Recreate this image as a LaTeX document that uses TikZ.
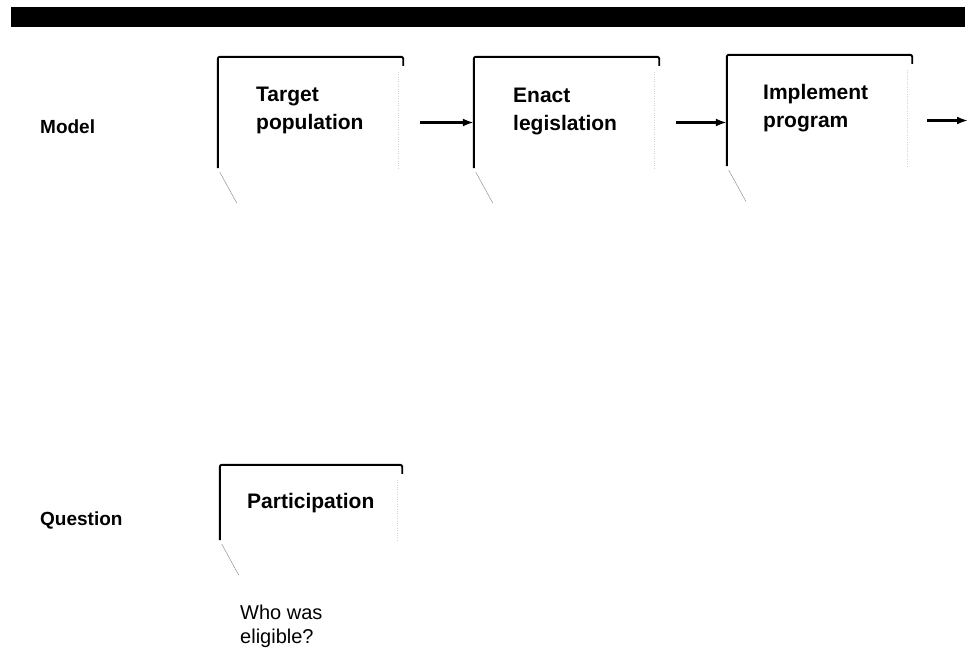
\documentclass[tikz,border=0pt]{standalone}
\usepackage{fontspec}
\setmainfont{Liberation Sans}
\usetikzlibrary{arrows.meta}

\begin{document}
\begin{tikzpicture}[x=1pt,y=-1pt,
    stage/.style={minimum width=185pt,minimum height=111pt,inner sep=0pt},
    bracket/.style={line width=1.9pt,rounded corners=2pt},
    tick/.style={line width=0.4pt,gray},
    word/.style={anchor=north west,inner sep=0pt,align=left,font=\fontsize{21}{28}\selectfont\bfseries},
    rowname/.style={anchor=base west,inner sep=0pt,font=\fontsize{19}{24}\selectfont\bfseries},
    flow/.style={line width=2.6pt,-{Latex[length=11pt,width=8pt]}}]
        \useasboundingbox (0,0) rectangle (976,653);
        \fill (11,7) rectangle (965,27);

        \node (model) at (40,133) [rowname] {Model};
        \node (question) at (40,525) [rowname] {Question};

        \node (b1) at (310.5,112.5) [stage] {};
        \node (b2) at (566.5,112.5) [stage] {};
        \node (b3) at (819.5,110.5) [stage] {};
        \node (q) at (311,502.5) [stage,minimum width=182pt,minimum height=75pt] {};

        \node (t1) at (256,87) [word] {Target\\population};
        \node (t2) at (513,88) [word] {Enact\\legislation};
        \node (t3) at (763,84.5) [word] {Implement\\program};
        \node (tq) at (247,508) [word,anchor=base west] {Participation};
        \node (ask) at (240,604.5) [word,font=\fontsize{20}{24}\selectfont] {Who was\\eligible?};

        \foreach \b in {b1,b2,b3,q} {
          \draw[bracket] (\b.south west) -- (\b.north west) -- (\b.north east) -- ++(0,9);
          \draw[tick] ([shift={(2,4)}]\b.south west) -- ++(17,31);
          \draw[gray!35,dotted] ([shift={(-5,15)}]\b.north east) -- ([xshift=-5pt]\b.south east);
        }

        \coordinate (next) at (968,120.5);
        \draw[flow] ([xshift=17pt,yshift=-10pt]b1.east) -- ([yshift=-10pt]b2.west);
        \draw[flow] ([xshift=17pt,yshift=-10pt]b2.east) -- ([yshift=-10pt]b2.east -| b3.west);
        \draw[flow] ([xshift=15pt,yshift=-10pt]b3.east) -- (next);
      \end{tikzpicture}
\end{document}
